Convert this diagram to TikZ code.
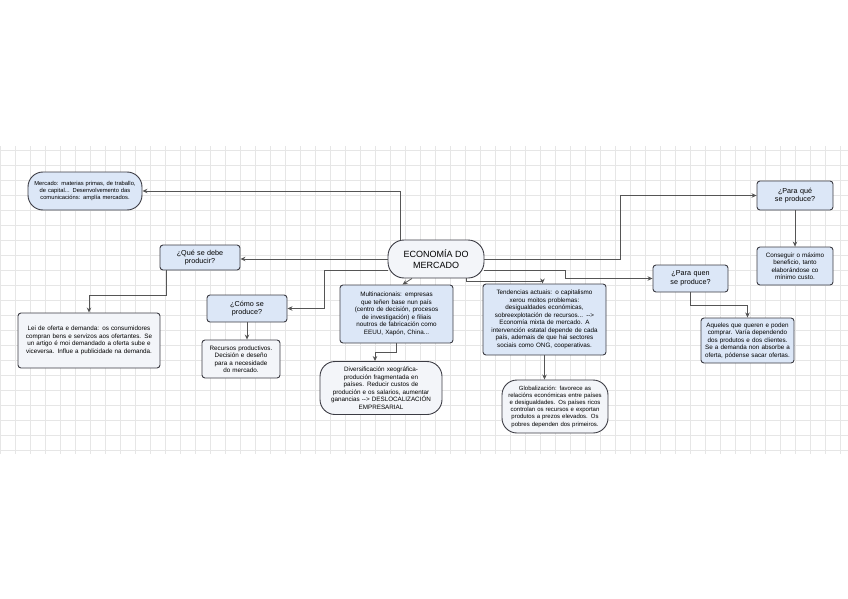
\documentclass[tikz,border=0pt]{standalone}
\usepackage{fontspec}
\setmainfont{Liberation Sans}
\usepackage{tikz}
\usetikzlibrary{arrows.meta,positioning,calc}

\definecolor{boxblue}{HTML}{DCE7F7}
\definecolor{boxpale}{HTML}{F3F5F9}
\definecolor{boxline}{HTML}{3C3C44}
\definecolor{connline}{HTML}{555555}
\definecolor{gridgray}{HTML}{E6E6E6}

\hyphenpenalty=10000
\exhyphenpenalty=10000

\tikzset{
  box/.style={draw=boxline, line width=0.9pt, rounded corners=3pt, fill=boxblue,
    align=center, inner sep=1.5pt, font=\fontsize{6.3}{7.5}\selectfont},
  question/.style={box, font=\fontsize{7.2}{8.6}\selectfont},
  stadium/.style={box, rounded corners=15pt},
  conn/.style={draw=connline, line width=0.8pt, -{Stealth[length=5pt,width=4.5pt]}},
}

\begin{document}
\begin{tikzpicture}[x=1pt,y=-1pt]
  \useasboundingbox (0,0) rectangle (848,599);
  \draw[gridgray, line width=0.4pt, step=15pt] (0,146) grid (848,454);

  % central node
  \node (eco) [stadium, fill=boxpale, minimum width=96, minimum height=38,
    rounded corners=16pt, font=\fontsize{9}{10.5}\selectfont] at (436,259)
    {ECONOMÍA DO\\MERCADO};

  \node (mercado) [stadium, minimum width=114, minimum height=38, text width=102,
    font=\fontsize{5.8}{7}\selectfont] at (85,191)
    {Mercado: materias primas, de traballo, de capital...
    Desenvolvemento das comunicacións: amplía mercados.};

  % ¿Qué se debe producir?
  \node (que) [question, minimum width=80, minimum height=25, text width=54] at (200,257.5)
    {¿Qué se debe producir?};
  \node (ley) [box, fill=boxpale, minimum width=142, minimum height=55, text width=132]
    at (89,340.5) {Lei de oferta e demanda: os consumidores compran bens e servizos
    aos ofertantes. Se un artigo é moi demandado a oferta sube e viceversa.
    Influe a publicidade na demanda.};

  % ¿Cómo se produce?
  \node (como) [question, minimum width=80, minimum height=27, text width=50] at (247,308.5)
    {¿Cómo se produce?};
  \node (comores) [box, fill=boxpale, minimum width=78, minimum height=38, text width=72]
    at (241,359) {Recursos productivos. Decisión e deseño para a necesidade do mercado.};

  \node (multi) [box, minimum width=113, minimum height=58, text width=100]
    at (396.5,314) {Multinacionais: empresas que teñen base nun país (centro de
    decisión, procesos de investigación) e filiais noutros de fabricación como
    EEUU, Xapón, China...};
  \node (divers) [stadium, fill=boxpale, minimum width=122, minimum height=53,
    text width=106] at (381,388) {Diversificación xeográfica- produción
    fragmentada en países. Reducir custos de produción e os salarios, aumentar
    ganancias -{}-> DESLOCALIZACIÓN EMPRESARIAL};

  \node (tend) [box, minimum width=123, minimum height=71, text width=112]
    at (544.5,319.5) {Tendencias actuais: o capitalismo xerou moitos problemas:
    desigualdades económicas, sobreexplotación de recursos... -{}-> Economía mixta
    de mercado. A intervención estatal depende de cada país, ademais de que hai
    sectores sociais como ONG, cooperativas.};
  \node (glob) [stadium, fill=boxpale, minimum width=106, minimum height=53,
    text width=96, font=\fontsize{6}{7.2}\selectfont] at (555,406.5)
    {Globalización: favorece as relacións económicas entre países e desigualdades.
    Os países ricos controlan os recursos e exportan produtos a prezos elevados.
    Os pobres dependen dos primeiros.};

  % ¿Para quen se produce?
  \node (quen) [question, minimum width=75, minimum height=27, text width=56] at (690.5,278.5)
    {¿Para quen se produce?};
  \node (aque) [box, minimum width=93, minimum height=45, text width=88] at (747.5,340.5)
    {Aqueles que queren e poden comprar. Varía dependendo dos produtos e dos
    clientes. Se a demanda non absorbe a oferta, pódense sacar ofertas.};

  % ¿Para qué se produce?
  \node (para) [question, minimum width=76, minimum height=29, text width=52] at (795,195.5)
    {¿Para qué se produce?};
  \node (consg) [box, minimum width=76, minimum height=38, text width=70] at (795,266)
    {Conseguir o máximo beneficio, tanto elaborándose co mínimo custo.};

  % connectors
  \draw[conn] ([xshift=-36pt]eco.north) |- (mercado.east);
  \draw[conn] (eco.west) -- (eco.west -| que.east);
  \draw[conn] ([xshift=7pt]que.south west) -- ++(0,25) -| (ley.north);
  \draw[conn] ([yshift=-11pt]eco.west) -- ++(-63,0) |- (como.east);
  \draw[conn] (como.south) -- (como.south |- comores.north);
  \draw[conn] ([xshift=-24pt]eco.south) -- ([xshift=6pt]multi.north);
  \draw[conn] (multi.south) -- ++(0,9) -| ([xshift=-6pt]divers.north);
  \draw[conn] ([xshift=30pt]eco.south) -- ++(0,3) -| ([xshift=-2pt]tend.north);
  \draw[conn] (tend.south) -- (tend.south |- glob.north);
  \draw[conn] ([yshift=-11pt]eco.east) -- ++(81,0) |- (quen.west);
  \draw[conn] (quen.south) -- ++(0,13) -| (aque.north);
  \draw[conn] (eco.east) -- ++(136,0) |- (para.west);
  \draw[conn] (para.south) -- (consg.north);
\end{tikzpicture}
\end{document}
